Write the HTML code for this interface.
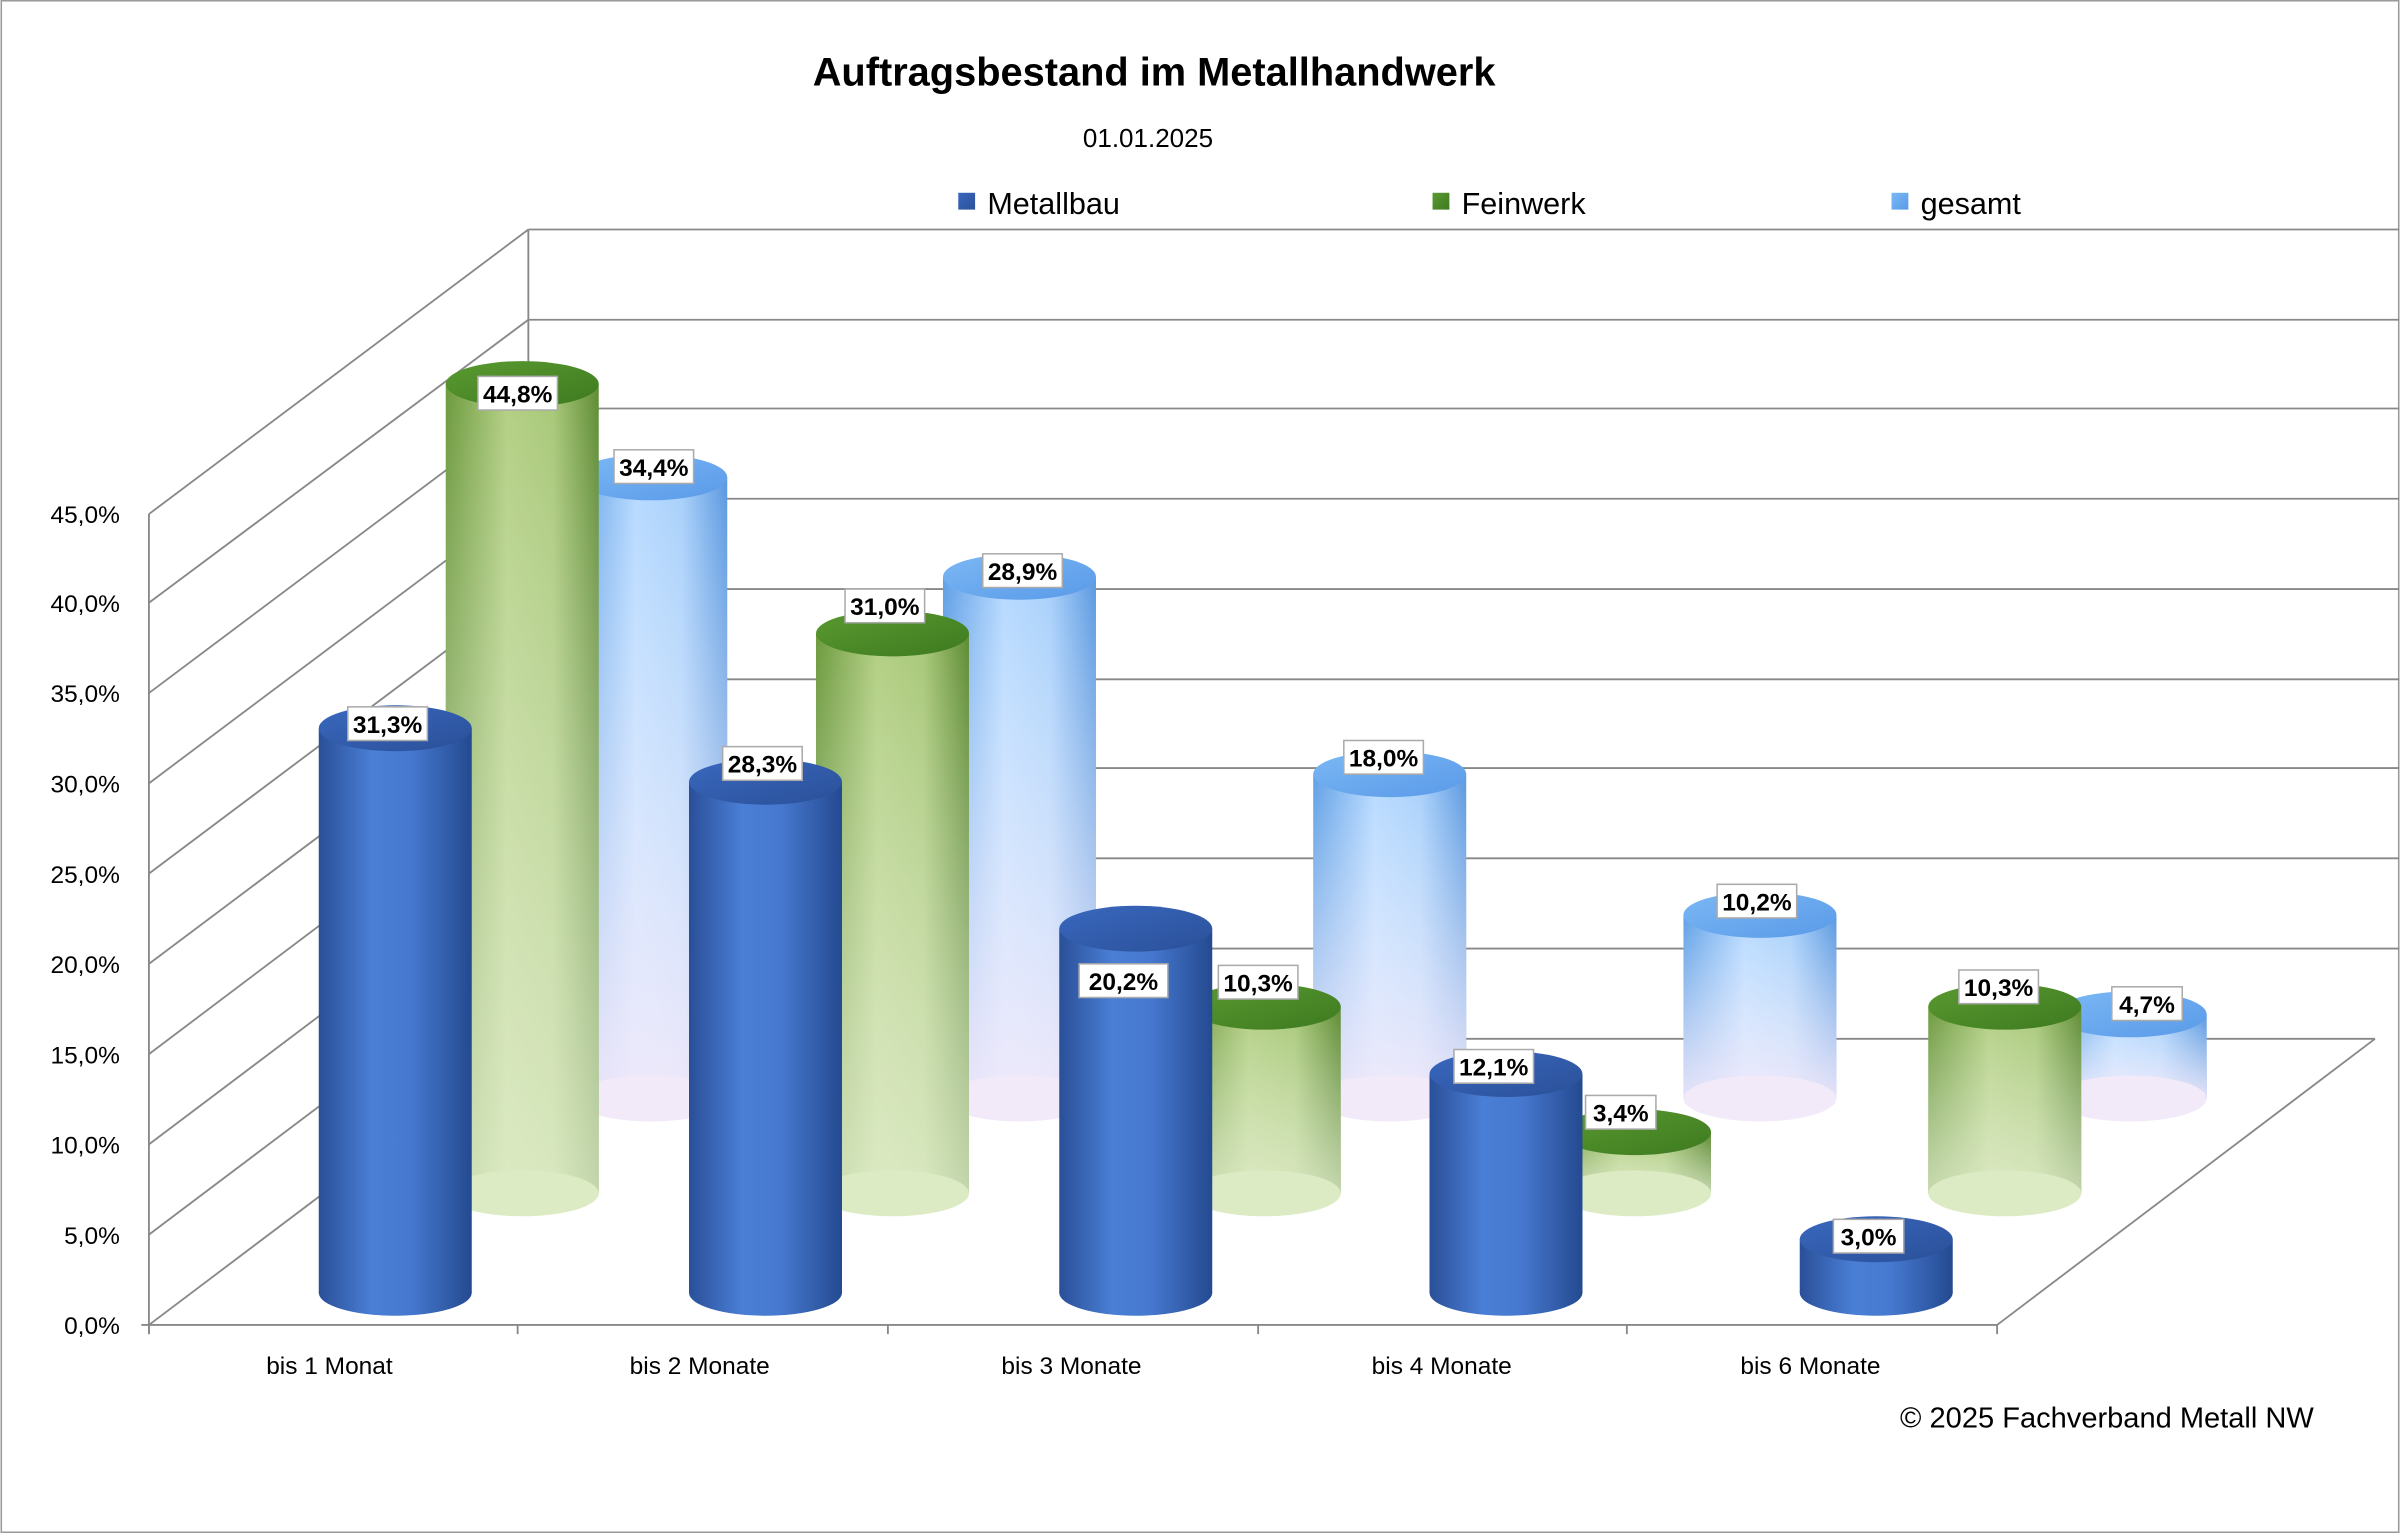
<!DOCTYPE html>
<html><head><meta charset="utf-8"><style>
html,body{margin:0;padding:0;background:#fff;}
svg{display:block;}
text{font-family:"Liberation Sans",sans-serif;}
</style></head><body>
<svg width="2400" height="1533" viewBox="0 0 1568 1002" xmlns="http://www.w3.org/2000/svg">
<defs>
<linearGradient id="bM" x1="0" x2="1" y1="0" y2="0"><stop offset="0" stop-color="#2a4f98"/><stop offset="0.35" stop-color="#4a7fd6"/><stop offset="0.6" stop-color="#4678cf"/><stop offset="1" stop-color="#244a90"/></linearGradient>
<linearGradient id="tM" x1="0" x2="1" y1="0" y2="1"><stop offset="0" stop-color="#3a68bf"/><stop offset="1" stop-color="#2a5098"/></linearGradient>
<linearGradient id="bF" x1="0" x2="1" y1="0" y2="0"><stop offset="0" stop-color="#6d9a3e"/><stop offset="0.4" stop-color="#b2cf83"/><stop offset="0.7" stop-color="#a8c878"/><stop offset="1" stop-color="#5f8c34"/></linearGradient>
<linearGradient id="tF" x1="0" x2="1" y1="0" y2="1"><stop offset="0" stop-color="#5a9a30"/><stop offset="1" stop-color="#3d7a20"/></linearGradient>
<linearGradient id="bG" x1="0" x2="1" y1="0" y2="0"><stop offset="0" stop-color="#5f9fe6"/><stop offset="0.4" stop-color="#b6d9ff"/><stop offset="0.7" stop-color="#a8d0fb"/><stop offset="1" stop-color="#5a98e0"/></linearGradient>
<linearGradient id="tG" x1="0" x2="1" y1="0" y2="1"><stop offset="0" stop-color="#7bb8f5"/><stop offset="1" stop-color="#5a9ae8"/></linearGradient>
<linearGradient id="fadeF" x1="0" x2="0" y1="0" y2="1"><stop offset="0" stop-color="#fff" stop-opacity="0"/><stop offset="1" stop-color="#eef5de" stop-opacity="0.7"/></linearGradient>
<linearGradient id="fadeG" x1="0" x2="0" y1="0" y2="1"><stop offset="0" stop-color="#fff" stop-opacity="0"/><stop offset="1" stop-color="#f5eafa" stop-opacity="0.9"/></linearGradient>
</defs>
<rect x="0.5" y="0.5" width="1567" height="1001" fill="#fff" stroke="#999"/>
<text x="754" y="56" font-size="26" font-weight="bold" text-anchor="middle">Auftragsbestand im Metallhandwerk</text>
<text x="750" y="96" font-size="17" text-anchor="middle">01.01.2025</text>
<rect x="626" y="126" width="11" height="11" fill="url(#tM)"/><text x="645" y="140" font-size="20">Metallbau</text>
<rect x="936" y="126" width="11" height="11" fill="url(#tF)"/><text x="955" y="140" font-size="20">Feinwerk</text>
<rect x="1236" y="126" width="11" height="11" fill="url(#tG)"/><text x="1255" y="140" font-size="20">gesamt</text>
<g stroke="#888" stroke-width="1.2" fill="none">
<line x1="345" y1="150" x2="345" y2="679"/>
<line x1="345" y1="150" x2="1568" y2="150"/><line x1="345" y1="209" x2="1568" y2="209"/><line x1="345" y1="267" x2="1568" y2="267"/><line x1="345" y1="326" x2="1568" y2="326"/><line x1="345" y1="385" x2="1568" y2="385"/><line x1="345" y1="444" x2="1568" y2="444"/><line x1="345" y1="502" x2="1568" y2="502"/><line x1="345" y1="561" x2="1568" y2="561"/><line x1="345" y1="620" x2="1568" y2="620"/><line x1="345" y1="679" x2="1552" y2="679"/>
<line x1="97" y1="866" x2="345" y2="679"/><line x1="97" y1="807" x2="345" y2="620"/><line x1="97" y1="748" x2="345" y2="561"/><line x1="97" y1="689" x2="345" y2="502"/><line x1="97" y1="630" x2="345" y2="444"/><line x1="97" y1="571" x2="345" y2="385"/><line x1="97" y1="512" x2="345" y2="326"/><line x1="97" y1="453" x2="345" y2="267"/><line x1="97" y1="394" x2="345" y2="209"/><line x1="97" y1="336" x2="345" y2="150"/>
<line x1="97" y1="336" x2="97" y2="872"/>
<line x1="97" y1="866" x2="1305" y2="866"/><line x1="1305" y1="866" x2="1552" y2="679"/>
<line x1="92" y1="866" x2="97" y2="866"/>
<line x1="97" y1="866" x2="97" y2="872"/><line x1="338" y1="866" x2="338" y2="872"/><line x1="580" y1="866" x2="580" y2="872"/><line x1="822" y1="866" x2="822" y2="872"/><line x1="1063" y1="866" x2="1063" y2="872"/><line x1="1305" y1="866" x2="1305" y2="872"/>
</g>
<g font-size="16" text-anchor="end">
<text x="78" y="872">0,0%</text><text x="78" y="813">5,0%</text><text x="78" y="754">10,0%</text><text x="78" y="695">15,0%</text><text x="78" y="636">20,0%</text><text x="78" y="577">25,0%</text><text x="78" y="518">30,0%</text><text x="78" y="459">35,0%</text><text x="78" y="400">40,0%</text><text x="78" y="342">45,0%</text>
</g>
<g font-size="16" text-anchor="middle">
<text x="215" y="898">bis 1 Monat</text><text x="457" y="898">bis 2 Monate</text><text x="700" y="898">bis 3 Monate</text><text x="942" y="898">bis 4 Monate</text><text x="1183" y="898">bis 6 Monate</text>
</g>
<text x="1512" y="933" font-size="19" text-anchor="end">© 2025 Fachverband Metall NW</text>

<!-- gesamt -->
<g>
<rect x="375" y="312" width="100" height="406" fill="url(#bG)"/><rect x="375" y="312" width="100" height="406" fill="url(#fadeG)"/><ellipse cx="425" cy="718" rx="50" ry="15" fill="#f3eaf9"/><ellipse cx="425" cy="312" rx="50" ry="15" fill="url(#tG)"/>
<rect x="616" y="377" width="100" height="341" fill="url(#bG)"/><rect x="616" y="377" width="100" height="341" fill="url(#fadeG)"/><ellipse cx="666" cy="718" rx="50" ry="15" fill="#f3eaf9"/><ellipse cx="666" cy="377" rx="50" ry="15" fill="url(#tG)"/>
<rect x="858" y="506" width="100" height="212" fill="url(#bG)"/><rect x="858" y="506" width="100" height="212" fill="url(#fadeG)"/><ellipse cx="908" cy="718" rx="50" ry="15" fill="#f3eaf9"/><ellipse cx="908" cy="506" rx="50" ry="15" fill="url(#tG)"/>
<rect x="1100" y="598" width="100" height="120" fill="url(#bG)"/><rect x="1100" y="598" width="100" height="120" fill="url(#fadeG)"/><ellipse cx="1150" cy="718" rx="50" ry="15" fill="#f3eaf9"/><ellipse cx="1150" cy="598" rx="50" ry="15" fill="url(#tG)"/>
<rect x="1342" y="663" width="100" height="55" fill="url(#bG)"/><rect x="1342" y="663" width="100" height="55" fill="url(#fadeG)"/><ellipse cx="1392" cy="718" rx="50" ry="15" fill="#f3eaf9"/><ellipse cx="1392" cy="663" rx="50" ry="15" fill="url(#tG)"/>
</g>
<!-- Feinwerk -->
<g>
<rect x="291" y="251" width="100" height="529" fill="url(#bF)"/><rect x="291" y="251" width="100" height="529" fill="url(#fadeF)"/><ellipse cx="341" cy="780" rx="50" ry="15" fill="#dcebc4"/><ellipse cx="341" cy="251" rx="50" ry="15" fill="url(#tF)"/>
<rect x="533" y="414" width="100" height="366" fill="url(#bF)"/><rect x="533" y="414" width="100" height="366" fill="url(#fadeF)"/><ellipse cx="583" cy="780" rx="50" ry="15" fill="#dcebc4"/><ellipse cx="583" cy="414" rx="50" ry="15" fill="url(#tF)"/>
<rect x="776" y="658" width="100" height="122" fill="url(#bF)"/><rect x="776" y="658" width="100" height="122" fill="url(#fadeF)"/><ellipse cx="826" cy="780" rx="50" ry="15" fill="#dcebc4"/><ellipse cx="826" cy="658" rx="50" ry="15" fill="url(#tF)"/>
<rect x="1018" y="740" width="100" height="40" fill="url(#bF)"/><rect x="1018" y="740" width="100" height="40" fill="url(#fadeF)"/><ellipse cx="1068" cy="780" rx="50" ry="15" fill="#dcebc4"/><ellipse cx="1068" cy="740" rx="50" ry="15" fill="url(#tF)"/>
<rect x="1260" y="658" width="100" height="122" fill="url(#bF)"/><rect x="1260" y="658" width="100" height="122" fill="url(#fadeF)"/><ellipse cx="1310" cy="780" rx="50" ry="15" fill="#dcebc4"/><ellipse cx="1310" cy="658" rx="50" ry="15" fill="url(#tF)"/>
</g>
<!-- Metallbau -->
<g>
<rect x="208" y="476" width="100" height="369" fill="url(#bM)"/><ellipse cx="258" cy="845" rx="50" ry="15" fill="url(#bM)"/><ellipse cx="258" cy="476" rx="50" ry="15" fill="url(#tM)"/>
<rect x="450" y="511" width="100" height="334" fill="url(#bM)"/><ellipse cx="500" cy="845" rx="50" ry="15" fill="url(#bM)"/><ellipse cx="500" cy="511" rx="50" ry="15" fill="url(#tM)"/>
<rect x="692" y="607" width="100" height="238" fill="url(#bM)"/><ellipse cx="742" cy="845" rx="50" ry="15" fill="url(#bM)"/><ellipse cx="742" cy="607" rx="50" ry="15" fill="url(#tM)"/>
<rect x="934" y="702" width="100" height="143" fill="url(#bM)"/><ellipse cx="984" cy="845" rx="50" ry="15" fill="url(#bM)"/><ellipse cx="984" cy="702" rx="50" ry="15" fill="url(#tM)"/>
<rect x="1176" y="810" width="100" height="35" fill="url(#bM)"/><ellipse cx="1226" cy="845" rx="50" ry="15" fill="url(#bM)"/><ellipse cx="1226" cy="810" rx="50" ry="15" fill="url(#tM)"/>
</g>
<!-- labels -->
<g font-size="16" font-weight="bold" text-anchor="middle">
<g fill="#fff" stroke="#aaa"><rect x="401" y="294" width="52" height="22"/><rect x="642" y="362" width="52" height="22"/><rect x="878" y="484" width="52" height="22"/><rect x="1122" y="578" width="52" height="22"/><rect x="1380" y="645" width="46" height="22"/>
<rect x="312" y="246" width="52" height="22"/><rect x="552" y="385" width="52" height="22"/><rect x="796" y="631" width="52" height="22"/><rect x="1036" y="716" width="46" height="22"/><rect x="1280" y="634" width="52" height="22"/>
<rect x="227" y="462" width="52" height="22"/><rect x="472" y="488" width="52" height="22"/><rect x="705" y="630" width="58" height="22"/><rect x="950" y="686" width="52" height="22"/><rect x="1198" y="797" width="46" height="22"/></g>
<text x="427" y="311">34,4%</text><text x="668" y="379">28,9%</text><text x="904" y="501">18,0%</text><text x="1148" y="595">10,2%</text><text x="1403" y="662">4,7%</text>
<text x="338" y="263">44,8%</text><text x="578" y="402">31,0%</text><text x="822" y="648">10,3%</text><text x="1059" y="733">3,4%</text><text x="1306" y="651">10,3%</text>
<text x="253" y="479">31,3%</text><text x="498" y="505">28,3%</text><text x="734" y="647">20,2%</text><text x="976" y="703">12,1%</text><text x="1221" y="814">3,0%</text>
</g>
</svg>
</body></html>
